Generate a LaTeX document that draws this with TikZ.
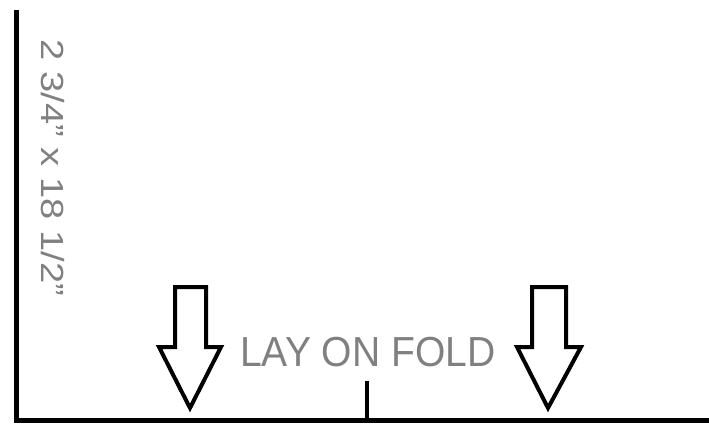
\documentclass[tikz,border=0pt]{standalone}
\usepackage{fontspec}
\setmainfont{Liberation Sans}
\begin{document}
\begin{tikzpicture}[x=1pt,y=-1pt,
  edge/.style={line width=5pt,black},
  arrowshape/.style={draw=black,line width=4pt,fill=white,line join=miter},
  label/.style={text=black!50,inner sep=0pt}]
\useasboundingbox[fill=white] (0,0) rectangle (709,431);
\coordinate (tl) at (16,10);
\coordinate (bl) at (16,420);
\coordinate (br) at (709,420);
\coordinate (tick) at (367,381);
\coordinate (tickb) at (367,420);
\draw[edge] (tl) -- (bl) -- (br);
\draw[line width=4pt] (tick) -- (tickb);
% left arrow
\draw[arrowshape] (175,287) -- (206,287) -- (206,347) -- (221,347) -- (190,408) -- (159,347) -- (175,347) -- cycle;
% right arrow
\draw[arrowshape] (532,287) -- (566,287) -- (566,347) -- (581,347) -- (548,408) -- (517,347) -- (532,347) -- cycle;
\node[label,anchor=base west] (fold) at (240,366) {\fontsize{42}{42}\selectfont\scalebox{0.93}[1]{LAY ON FOLD}};
\node[label,rotate=-90] (dim) at (53,168) {\fontsize{32}{32}\selectfont\scalebox{1.19}[1]{2 3/4\symbol{34} x 18 1/2\symbol{34}}};
\end{tikzpicture}
\end{document}
